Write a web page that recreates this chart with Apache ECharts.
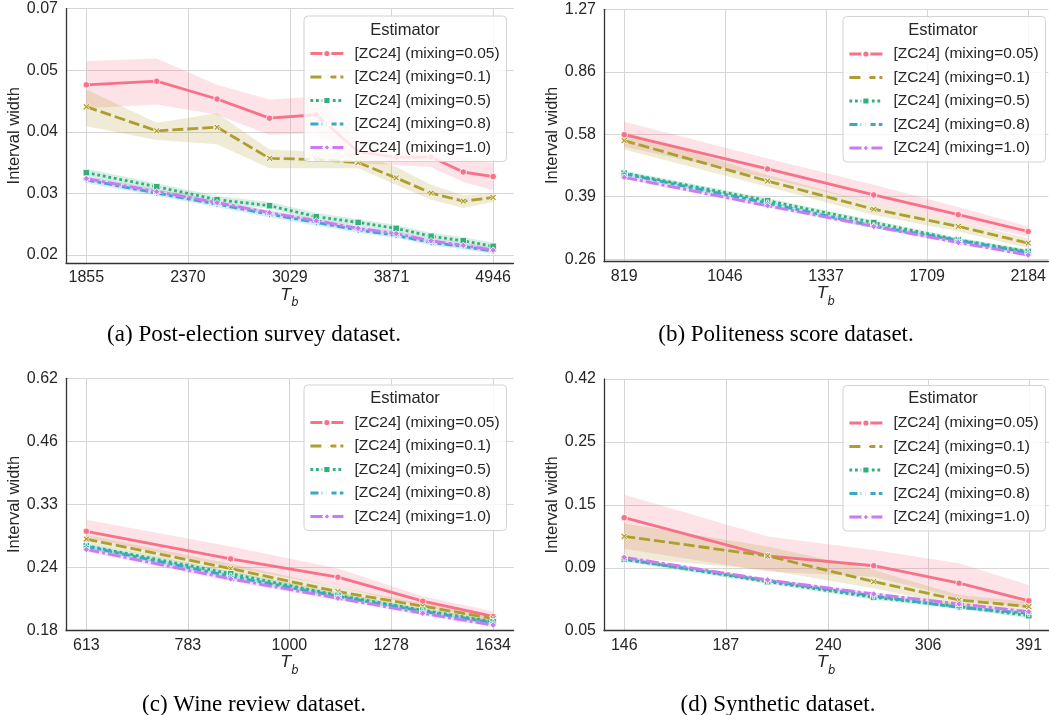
<!DOCTYPE html>
<html>
<head>
<meta charset="utf-8">
<script src="https://cdn.jsdelivr.net/npm/echarts@6/dist/echarts.min.js"></script>
<style>
  html, body { margin: 0; padding: 0; background: #fff; }
  #chart { width: 1049px; height: 715px; }
</style>
</head>
<body>
<div id="chart"></div>
<script>
// series order in every panel: mixing = 0.05, 0.1, 0.5, 0.8, 1.0
const names = ['[ZC24] (mixing=0.05)', '[ZC24] (mixing=0.1)', '[ZC24] (mixing=0.5)', '[ZC24] (mixing=0.8)', '[ZC24] (mixing=1.0)'];
const captions = ['(a) Post-election survey dataset.', '(b) Politeness score dataset.', '(c) Wine review dataset.', '(d) Synthetic dataset.'];

// (a) post-election survey
const xA = [1855, 2198, 2542, 2885, 3229, 3572, 3915, 4259, 4602, 4946];
const xTicksA = [1855, 2370, 3029, 3871, 4946];
const yRangeA = [0.02, 0.07];
const yTicksA = ['0.02', '0.03', '0.04', '0.05', '0.07'];
const meanA = [
  [0.0475, 0.0484, 0.0442, 0.0401, 0.0408, 0.0338, 0.0329, 0.0329, 0.0305, 0.0298],
  [0.0425, 0.0376, 0.0383, 0.0327, 0.0325, 0.0320, 0.0296, 0.0274, 0.0263, 0.0268],
  [0.0304, 0.0283, 0.0265, 0.0257, 0.0243, 0.0236, 0.0229, 0.0220, 0.0215, 0.0209],
  [0.0293, 0.0274, 0.0259, 0.0246, 0.0236, 0.0227, 0.0221, 0.0213, 0.0209, 0.0204],
  [0.0295, 0.0276, 0.0261, 0.0248, 0.0238, 0.0229, 0.0223, 0.0215, 0.0210, 0.0205]
];
const loA = [
  [0.0422, 0.0430, 0.0408, 0.0368, 0.0372, 0.0319, 0.0316, 0.0313, 0.0290, 0.0278],
  [0.0385, 0.0359, 0.0351, 0.0311, 0.0311, 0.0311, 0.0286, 0.0265, 0.0254, 0.0262],
  [0.0299, 0.0278, 0.0261, 0.0253, 0.0239, 0.0232, 0.0225, 0.0217, 0.0212, 0.0206],
  [0.0288, 0.0270, 0.0255, 0.0242, 0.0232, 0.0224, 0.0218, 0.0210, 0.0206, 0.0201],
  [0.0291, 0.0272, 0.0258, 0.0245, 0.0235, 0.0226, 0.0220, 0.0212, 0.0207, 0.0202]
];
const hiA = [
  [0.0536, 0.0543, 0.0475, 0.0441, 0.0447, 0.0363, 0.0347, 0.0338, 0.0330, 0.0319],
  [0.0464, 0.0392, 0.0411, 0.0342, 0.0338, 0.0335, 0.0313, 0.0286, 0.0271, 0.0274],
  [0.0310, 0.0288, 0.0270, 0.0262, 0.0248, 0.0240, 0.0233, 0.0224, 0.0219, 0.0213],
  [0.0298, 0.0279, 0.0263, 0.0250, 0.0240, 0.0231, 0.0225, 0.0216, 0.0212, 0.0207],
  [0.0299, 0.0280, 0.0264, 0.0251, 0.0241, 0.0232, 0.0226, 0.0218, 0.0213, 0.0208]
];

// (b) politeness score
const xB = [819, 1160, 1501, 1843, 2184];
const xTicksB = [819, 1046, 1337, 1709, 2184];
const yRangeB = [0.26, 1.27];
const yTicksB = ['0.26', '0.39', '0.58', '0.86', '1.27'];
const meanB = [
  [0.573, 0.461, 0.391, 0.345, 0.310],
  [0.552, 0.427, 0.357, 0.320, 0.288],
  [0.449, 0.377, 0.328, 0.294, 0.273],
  [0.447, 0.371, 0.321, 0.293, 0.271],
  [0.437, 0.365, 0.320, 0.289, 0.267]
];
const loB = [
  [0.531, 0.435, 0.371, 0.330, 0.300],
  [0.522, 0.412, 0.344, 0.310, 0.279],
  [0.442, 0.371, 0.323, 0.290, 0.269],
  [0.441, 0.366, 0.317, 0.289, 0.267],
  [0.432, 0.361, 0.316, 0.286, 0.264]
];
const hiB = [
  [0.622, 0.493, 0.417, 0.362, 0.320],
  [0.584, 0.444, 0.371, 0.330, 0.297],
  [0.456, 0.383, 0.333, 0.298, 0.277],
  [0.453, 0.376, 0.325, 0.297, 0.275],
  [0.442, 0.369, 0.324, 0.292, 0.270]
];

// (c) wine review
const xC = [613, 868, 1124, 1379, 1634];
const xTicksC = [613, 783, 1000, 1278, 1634];
const yRangeC = [0.18, 0.62];
const yTicksC = ['0.18', '0.24', '0.33', '0.46', '0.62'];
const meanC = [
  [0.293, 0.256, 0.234, 0.208, 0.193],
  [0.282, 0.244, 0.218, 0.203, 0.191],
  [0.273, 0.238, 0.214, 0.199, 0.188],
  [0.272, 0.235, 0.213, 0.198, 0.187],
  [0.268, 0.232, 0.211, 0.196, 0.185]
];
const loC = [
  [0.284, 0.246, 0.223, 0.203, 0.189],
  [0.277, 0.239, 0.214, 0.200, 0.188],
  [0.269, 0.235, 0.211, 0.197, 0.186],
  [0.269, 0.232, 0.211, 0.196, 0.185],
  [0.265, 0.229, 0.209, 0.194, 0.183]
];
const hiC = [
  [0.310, 0.272, 0.244, 0.213, 0.198],
  [0.288, 0.250, 0.223, 0.206, 0.194],
  [0.277, 0.241, 0.217, 0.201, 0.190],
  [0.275, 0.238, 0.215, 0.200, 0.189],
  [0.271, 0.235, 0.213, 0.198, 0.187]
];

// (d) synthetic
const xD = [146, 207, 268, 330, 391];
const xTicksD = [146, 187, 240, 306, 391];
const yRangeD = [0.05, 0.42];
const yTicksD = ['0.05', '0.09', '0.15', '0.25', '0.42'];
const meanD = [
  [0.130, 0.0941, 0.0866, 0.0747, 0.0644],
  [0.111, 0.0941, 0.0757, 0.0648, 0.0613],
  [0.0915, 0.0757, 0.0663, 0.0613, 0.0568],
  [0.0915, 0.0763, 0.0671, 0.0609, 0.0579],
  [0.0930, 0.0768, 0.0682, 0.0627, 0.0587]
];
const loD = [
  [0.100, 0.0824, 0.0789, 0.0658, 0.0604],
  [0.0930, 0.0835, 0.0716, 0.0613, 0.0596],
  [0.0895, 0.0742, 0.0650, 0.0601, 0.0556],
  [0.0903, 0.0753, 0.0662, 0.0601, 0.0571],
  [0.0918, 0.0758, 0.0673, 0.0619, 0.0579]
];
const hiD = [
  [0.158, 0.111, 0.0990, 0.0884, 0.0736],
  [0.124, 0.1018, 0.0835, 0.0676, 0.0639],
  [0.0935, 0.0772, 0.0676, 0.0625, 0.0580],
  [0.0927, 0.0773, 0.0680, 0.0617, 0.0587],
  [0.0942, 0.0778, 0.0691, 0.0635, 0.0595]
];

const colors = ['#f77189', '#ae9d31', '#33b07a', '#38a9c5', '#cc7af4'];
const bandColors = ['rgba(247,113,137,0.2)', 'rgba(174,157,49,0.2)', 'rgba(51,176,122,0.2)', 'rgba(56,169,197,0.2)', 'rgba(204,122,244,0.2)'];
const dashes = ['solid', [11, 4], [2.8, 2.8], [8, 3.2, 3.8, 3.2], [13, 3, 3, 3]];
const symbols = [
  'circle',
  'path://M0,2 L2,0 L5,3 L8,0 L10,2 L7,5 L10,8 L8,10 L5,7 L2,10 L0,8 L3,5 Z',
  'rect',
  'path://M3.5,0 L6.5,0 L6.5,3.5 L10,3.5 L10,6.5 L6.5,6.5 L6.5,10 L3.5,10 L3.5,6.5 L0,6.5 L0,3.5 L3.5,3.5 Z',
  'diamond'
];

const panels = [
  { x: xA, xt: xTicksA, yr: yRangeA, yl: yTicksA, mean: meanA, lo: loA, hi: hiA },
  { x: xB, xt: xTicksB, yr: yRangeB, yl: yTicksB, mean: meanB, lo: loB, hi: hiB },
  { x: xC, xt: xTicksC, yr: yRangeC, yl: yTicksC, mean: meanC, lo: loC, hi: hiC },
  { x: xD, xt: xTicksD, yr: yRangeD, yl: yTicksD, mean: meanD, lo: loD, hi: hiD }
];

// pixel layout of the four subplots
const layout = [
  { left: 66, top: 8.6, width: 447.5, height: 254.4, ymin: -0.13, legL: 304, legT: 16, titX: 405, titY: 30, capX: 254, capY: 335 },
  { left: 604, top: 9.3, width: 448, height: 252.4, ymin: -0.04, legL: 843, legT: 16.5, titX: 943, titY: 30, capX: 786, capY: 335 },
  { left: 66, top: 378.3, width: 447.5, height: 252.4, ymin: 0, legL: 304, legT: 385, titX: 405, titY: 398.5, capX: 254, capY: 705 },
  { left: 604, top: 379, width: 448, height: 251.7, ymin: 0, legL: 843, legT: 385.5, titX: 943, titY: 398.5, capX: 778, capY: 705 }
];

const FONT = '"Liberation Sans", Arial, sans-serif';
const TXT = '#262626';
const GRIDC = '#d6d6d6';

const grid = [], xAxis = [], yAxis = [], legend = [], series = [], graphic = [];

panels.forEach((p, k) => {
  const L = layout[k];
  const xa = p.xt[0], xb = p.xt[p.xt.length - 1];
  // both axes are logarithmic: map to tick units (0..4)
  const tx = v => 4 * Math.log(v / xa) / Math.log(xb / xa);
  const ty = v => 4 * Math.log(v / p.yr[0]) / Math.log(p.yr[1] / p.yr[0]);
  const xTickT = p.xt.map(tx);

  grid.push({ left: L.left, top: L.top, width: L.width, height: L.height });

  xAxis.push({
    type: 'value', gridIndex: k, min: -0.2, max: 4.2,
    axisLine: { show: true, onZero: false, lineStyle: { color: '#333', width: 1.3 } },
    axisTick: { show: false, customValues: xTickT },
    axisLabel: {
      customValues: xTickT, margin: 7, fontSize: 16, fontFamily: FONT, color: TXT,
      formatter: v => {
        let best = 0;
        xTickT.forEach((t, i) => { if (Math.abs(t - v) < Math.abs(xTickT[best] - v)) best = i; });
        return String(p.xt[best]);
      }
    },
    splitLine: { show: true, lineStyle: { color: GRIDC, width: 1 } },
    name: '{t|T}{b|b}', nameLocation: 'middle', nameGap: 23,
    nameTextStyle: {
      rich: {
        t: { fontSize: 16.5, fontStyle: 'italic', fontFamily: '"DejaVu Sans", sans-serif', color: TXT, lineHeight: 22, verticalAlign: 'top' },
        b: { fontSize: 11.5, fontStyle: 'italic', fontFamily: '"DejaVu Sans", sans-serif', color: TXT, lineHeight: 22, verticalAlign: 'bottom' }
      }
    }
  });

  yAxis.push({
    type: 'value', gridIndex: k, min: L.ymin, max: 4,
    axisLine: { show: true, onZero: false, lineStyle: { color: '#333', width: 1.3 } },
    axisTick: { show: false, customValues: [0, 1, 2, 3, 4] },
    axisLabel: {
      customValues: [0, 1, 2, 3, 4], margin: 8, fontSize: 16, fontFamily: FONT, color: TXT,
      formatter: v => p.yl[Math.round(v)]
    },
    splitLine: { show: true, lineStyle: { color: GRIDC, width: 1 } },
    name: 'Interval width', nameLocation: 'middle', nameGap: 43,
    nameTextStyle: { fontSize: 16.5, fontFamily: FONT, color: TXT }
  });

  legend.push({
    data: names, orient: 'vertical', left: L.legL, top: L.legT,
    itemWidth: 33, itemHeight: 9, itemGap: 7.5,
    padding: [29.5, 7, 6, 5],
    backgroundColor: 'rgba(255,255,255,0.8)', borderColor: '#d3d3d3', borderWidth: 1, borderRadius: 4,
    selectedMode: false, z: 10,
    lineStyle: { width: 2.8 },
    textStyle: { fontSize: 15.5, fontFamily: FONT, color: TXT, padding: [0, 0, 0, 6] }
  });

  graphic.push({
    type: 'text', x: L.titX, y: L.titY, z: 100,
    style: { text: 'Estimator', font: '16.5px ' + FONT, fill: TXT, align: 'center', verticalAlign: 'middle' }
  });
  graphic.push({
    type: 'text', x: L.capX, y: L.capY, z: 100,
    style: { text: captions[k], font: '23px "Liberation Serif", "Times New Roman", serif', fill: '#000', align: 'center', verticalAlign: 'middle' }
  });

  names.forEach((name, s) => {
    // confidence band drawn as one polygon: upper edge forward, lower edge back
    const band = p.x.map((x, i) => [tx(x), ty(p.lo[s][i]), ty(p.hi[s][i])]);
    series.push({
      name: 'band', type: 'custom', xAxisIndex: k, yAxisIndex: k, z: 1, silent: true,
      data: band,
      encode: { x: 0, y: [1, 2] },
      renderItem: (params, api) => {
        if (params.dataIndex !== 0) return;
        const pts = band.map(d => api.coord([d[0], d[2]]))
          .concat(band.slice().reverse().map(d => api.coord([d[0], d[1]])));
        return { type: 'polygon', shape: { points: pts }, style: { fill: bandColors[s] } };
      }
    });
    series.push({
      name, type: 'line', xAxisIndex: k, yAxisIndex: k, z: 3,
      symbol: symbols[s], symbolSize: 6.5, showSymbol: true,
      lineStyle: { color: colors[s], width: 2.8, type: dashes[s] },
      itemStyle: { color: colors[s], borderColor: '#fff', borderWidth: 0.8 },
      data: p.x.map((x, i) => [tx(x), ty(p.mean[s][i])])
    });
  });
});

const chart = echarts.init(document.getElementById('chart'), null, { renderer: 'canvas' });
chart.setOption({
  animation: false,
  backgroundColor: '#fff',
  grid, xAxis, yAxis, legend, series, graphic
});
</script>
</body>
</html>
